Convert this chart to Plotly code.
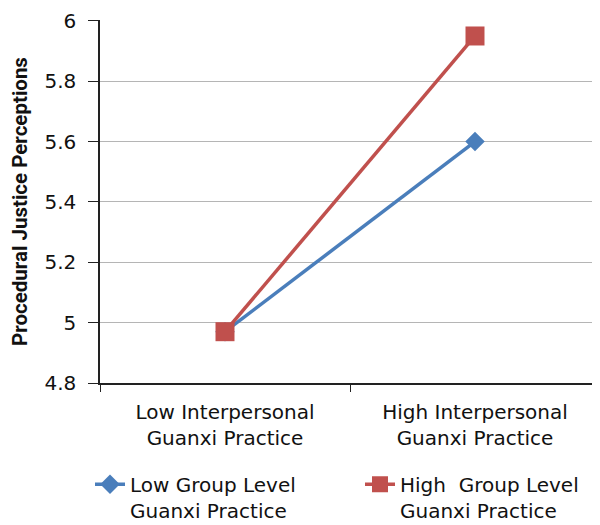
import plotly.graph_objects as go

categories = ["Low Interpersonal<br>Guanxi Practice", "High Interpersonal<br>Guanxi Practice"]
low_group = [4.97, 5.60]
high_group = [4.97, 5.95]
series_names = ["Low Group Level<br>Guanxi Practice", "High\u00a0 Group Level<br>Guanxi Practice"]
y_ticks = [4.8, 5.0, 5.2, 5.4, 5.6, 5.8, 6.0]
y_tick_labels = ["4.8", "5", "5.2", "5.4", "5.6", "5.8", "6"]

font_family = "DejaVu Sans"
fs = 20

fig = go.Figure()
fig.add_trace(go.Scatter(
    x=categories, y=low_group, name=series_names[0], mode="lines+markers",
    line=dict(color="#4A7EBB", width=3.5),
    marker=dict(symbol="diamond", size=15, color="#4A7EBB"),
    legend="legend",
))
fig.add_trace(go.Scatter(
    x=categories, y=high_group, name=series_names[1], mode="lines+markers",
    line=dict(color="#C0504D", width=3.5),
    marker=dict(symbol="square", size=19, color="#C0504D"),
    legend="legend2",
))

legend_common = dict(
    orientation="h", yanchor="top", xanchor="left", valign="top",
    font=dict(family=font_family, size=fs, color="#111111"),
    bgcolor="rgba(0,0,0,0)", borderwidth=0,
)

fig.update_layout(
    width=592, height=517,
    margin=dict(l=92, r=0, t=12, b=142, autoexpand=False),
    plot_bgcolor="white", paper_bgcolor="white",
    font=dict(family=font_family, size=fs, color="#111111"),
    showlegend=True,
    legend=dict(x=-0.02, y=-0.225, **legend_common),
    legend2=dict(x=0.52, y=-0.225, **legend_common),
    xaxis=dict(
        type="category", range=[-0.5, 1.5], tickson="boundaries",
        ticks="outside", ticklen=7, tickcolor="#222222",
        showline=True, linecolor="#222222", linewidth=1.5,
        showgrid=False, automargin=False, ticklabelstandoff=10,
        tickfont=dict(family=font_family, size=fs),
    ),
    yaxis=dict(
        range=[4.8, 6.003], tickvals=y_ticks, ticktext=y_tick_labels,
        ticks="outside", ticklen=10, tickcolor="#222222",
        showline=True, linecolor="#222222", linewidth=1.5,
        showgrid=True, gridcolor="#B5B5B5", gridwidth=1,
        zeroline=False, automargin=False, ticklabelstandoff=8,
        ticklabeloverflow="allow",
        tickfont=dict(family=font_family, size=fs),
        title=dict(text="<b>Procedural Justice Perceptions</b>",
                   font=dict(family="Roboto", size=20.5), standoff=14),
    ),
)

fig.write_html("out.html")
